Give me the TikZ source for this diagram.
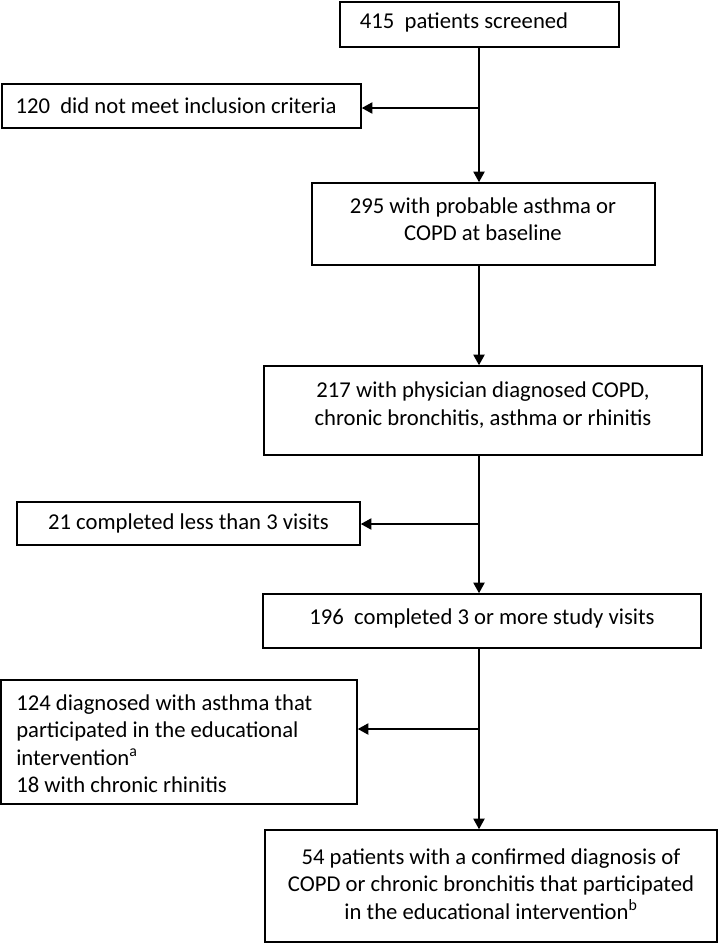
\documentclass[tikz,border=0pt]{standalone}
\usepackage{fontspec}
\setmainfont{Carlito}
\usetikzlibrary{arrows.meta}
\tikzset{
  boxnode/.style={draw=black, line width=1.2pt, rectangle, inner sep=0pt, fill=white},
  txt/.style={inner sep=0pt, align=center, font=\fontsize{17}{20.6}\selectfont},
  txtl/.style={inner sep=0pt, align=left, font=\fontsize{17}{20.6}\selectfont},
  conn/.style={line width=1.1pt, -{Triangle[width=8.5pt,length=8pt]}},
  plain/.style={line width=1.1pt}
}
\begin{document}
\begin{tikzpicture}[x=0.75pt,y=-0.75pt]
\useasboundingbox (0,0) rectangle (720,943);
% boxes
\node[boxnode, minimum width=279*0.75pt, minimum height=45*0.75pt] (b1) at (479.5,24.5) {};
\node[boxnode, minimum width=359*0.75pt, minimum height=44*0.75pt] (b2) at (181.5,106) {};
\node[boxnode, minimum width=343*0.75pt, minimum height=82*0.75pt] (b3) at (483.5,224) {};
\node[boxnode, minimum width=438*0.75pt, minimum height=89*0.75pt] (b4) at (483,410.5) {};
\node[boxnode, minimum width=343*0.75pt, minimum height=43*0.75pt] (b5) at (188.5,523.5) {};
\node[boxnode, minimum width=438*0.75pt, minimum height=54*0.75pt] (b6) at (482,621) {};
\node[boxnode, minimum width=356*0.75pt, minimum height=124*0.75pt] (b7) at (179,742) {};
\node[boxnode, minimum width=452*0.75pt, minimum height=112*0.75pt] (b8) at (491,886) {};
% texts
\node[txt] (t1) at (464,22) {415\ \ patients screened};
\node[txt] (t2) at (176,106) {120\ \ did not meet inclusion criteria};
\node[txt] (t3) at (483,219) {295 with probable asthma or\\COPD at baseline};
\node[txt] (t4) at (483,405) {217 with physician diagnosed COPD,\\chronic bronchitis, asthma or rhinitis};
\node[txt] (t5) at (188.5,523) {21 completed less than 3 visits};
\node[txt] (t6) at (482,618) {196\ \ completed 3 or more study visits};
\node[txtl, anchor=west] (t7) at (16,743.5) {124 diagnosed with asthma that\\participated in the educational\\intervention\textsuperscript{a}\\18 with chronic rhinitis};
\node[txt] (t8) at (491,884) {54 patients with a confirmed diagnosis of\\COPD or chronic bronchitis that participated\\in the educational intervention\textsuperscript{b}};
% connectors
\coordinate (trunk) at (479,0);
\coordinate (j1) at (479,108);
\coordinate (j2) at (479,524);
\coordinate (j3) at (479,729);
\draw[conn] (b1.south -| trunk) -- (b3.north -| trunk);
\draw[conn] (j1) -- (b2.east |- j1);
\draw[conn] (b3.south -| trunk) -- (b4.north -| trunk);
\draw[conn] (b4.south -| trunk) -- (b6.north -| trunk);
\draw[conn] (j2) -- (b5.east |- j2);
\draw[conn] (b6.south -| trunk) -- (b8.north -| trunk);
\draw[conn] (j3) -- (b7.east |- j3);
\end{tikzpicture}
\end{document}
